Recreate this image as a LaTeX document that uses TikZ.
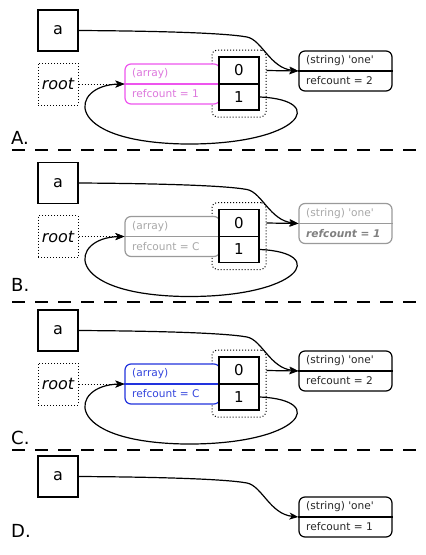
\documentclass[tikz,border=0pt]{standalone}
\usepackage{fontspec}
\setmainfont[Ligatures=TeXOff]{DejaVu Sans}
\usetikzlibrary{arrows.meta}
\definecolor{magA}{HTML}{EE55EE}
\definecolor{magT}{HTML}{DD77DD}
\definecolor{greyB}{HTML}{9A9A9A}
\definecolor{greyT}{HTML}{A8A8A8}
\definecolor{greyR}{HTML}{808080}
\definecolor{blueC}{HTML}{2233DD}
\definecolor{blueT}{HTML}{3344DD}
\tikzset{
  box/.style={draw, line width=1.2pt, inner sep=0pt, fill=white},
  bigtxt/.style={font=\fontsize{16}{18}\selectfont},
  small/.style={font=\fontsize{10.6}{12}\selectfont, inner sep=0pt, anchor=west},
  conn/.style={line width=1.2pt, -{Stealth[length=9pt,width=7pt,inset=2.5pt]}},
  sep/.style={line width=2pt, dash pattern=on 13pt off 10pt},
  lbl/.style={font=\fontsize{18}{20}\selectfont, anchor=base west, inner sep=0pt},
}
% #1 prefix, #2 y offset, #3 array draw colour, #4 array text colour, #5 array refcount
% #6 string draw colour, #7 string text colour, #8 string refcount text
\newcommand{\mypanel}[8]{%
\begin{scope}[shift={(0,#2)}]
  \node[box, bigtxt, minimum width=40pt, minimum height=41pt] (#1a) at (58,30.5) {a};
  \node[box, bigtxt, line width=1pt, dotted, minimum width=40pt, minimum height=42pt] (#1root) at (58,84) {\itshape root};
  \node[draw, line width=1pt, dotted, rounded corners=5pt, minimum width=54pt, minimum height=67pt, inner sep=0pt] (#1grp) at (239,83.5) {};
  \node[box, draw=#3, rounded corners=6pt, minimum width=95pt, minimum height=40pt] (#1arr) at (172.5,84) {};
  \draw[line width=1.2pt, #3] (#1arr.west) -- ([xshift=-1pt]#1arr.east);
  \node[small, text=#4] (#1arrA) at (132,74) {(array)};
  \node[small, text=#4] (#1arrB) at (132,94) {refcount = #5};
  \node[box, line width=1.4pt, font=\fontsize{15}{17}\selectfont, minimum width=40pt, minimum height=27pt] (#1c0) at (239,70.5) {0};
  \node[box, line width=1.4pt, font=\fontsize{15}{17}\selectfont, minimum width=40pt, minimum height=26pt] (#1c1) at (239,97) {1};
  \node[box, draw=#6, rounded corners=6pt, minimum width=93pt, minimum height=40pt] (#1str) at (345.5,71) {};
  \draw[line width=1.2pt, #6] (#1str.west) -- (#1str.east);
  \node[small, text=#7] (#1strA) at (306,61) {(string) 'one'};
  \node[small, text=#7] (#1strB) at (306,81) {#8};
  \draw[conn] (#1c0.east -| #1grp.east) -- (#1str.west);
  \draw[conn] (#1a.east) .. controls (160,31) and (225,33) .. (247,37)
        .. controls (262,40) and (270,68) .. (#1str.west);
  \draw[conn] (#1c1.east) .. controls (330,100) and (300,145) .. (185,144)
        .. controls (60,142) and (70,85) .. (#1arr.west);
  \draw[conn, line width=1pt, dotted] (#1root.east) -- (#1arr.west);
\end{scope}}
\begin{document}
\begin{tikzpicture}[x=1pt, y=-1pt]
\useasboundingbox (0,0) rectangle (426,555);
\mypanel{A}{0}{magA}{magT}{1}{black}{black!85}{refcount = 2}
\mypanel{B}{152.5}{greyB}{greyT}{C}{greyB}{greyT}{\textcolor{greyR}{\bfseries\itshape refcount = 1}}
\mypanel{C}{300}{blueC}{blueT}{C}{black}{black!85}{refcount = 2}
% panel D
\begin{scope}[shift={(0,446)}]
  \node[box, bigtxt, minimum width=40pt, minimum height=41pt] (Da) at (58,30.5) {a};
  \node[box, rounded corners=6pt, minimum width=93pt, minimum height=40pt] (Dstr) at (345.5,71) {};
  \draw[line width=1.2pt] (Dstr.west) -- (Dstr.east);
  \node[small, text=black!85] (DstrA) at (306,61) {(string) 'one'};
  \node[small, text=black!85] (DstrB) at (306,81) {refcount = 1};
  \draw[conn] (Da.east) .. controls (160,31) and (225,33) .. (247,37)
        .. controls (262,40) and (270,68) .. (Dstr.west);
\end{scope}
\node[lbl] (LA) at (11,144) {A.};
\node[lbl] (LB) at (11,291) {B.};
\node[lbl] (LC) at (11,444) {C.};
\node[lbl] (LD) at (11,537) {D.};
\draw[sep] (12,150) -- (420,150);
\draw[sep] (12,302) -- (420,302);
\draw[sep] (12,449.5) -- (420,449.5);
\end{tikzpicture}
\end{document}
